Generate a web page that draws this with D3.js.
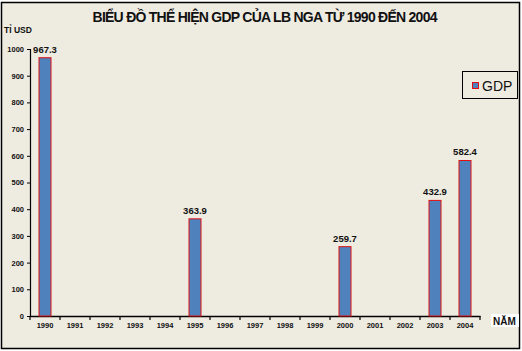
<!DOCTYPE html>
<html>
<head>
<meta charset="utf-8">
<script src="https://cdn.jsdelivr.net/npm/d3@7"></script>
<style>
  body { margin: 0; background: #fff; }
  svg { display: block; font-family: "Liberation Sans", Arial, sans-serif; }
</style>
</head>
<body>
<svg class="chart"></svg>
<script>
// chart data
const years = ['1990', '1991', '1992', '1993', '1994', '1995', '1996', '1997',
  '1998', '1999', '2000', '2001', '2002', '2003', '2004']
const gdp = [967.3, null, null, null, null, 363.9, null, null,
  null, null, 259.7, null, null, 432.9, 582.4]
const yTicks = [0, 100, 200, 300, 400, 500, 600, 700, 800, 900, 1000]

const w = 522
const h = 351

const svg = d3.select('.chart')
    .attr('width', w)
    .attr('height', h)

// chart background and border
svg.append('rect')
    .attr('x', 1.5)
    .attr('y', 2.5)
    .attr('width', 518)
    .attr('height', 346)
    .attr('fill', '#eeebe0')
    .attr('stroke', '#000')
    .attr('stroke-width', 1.5)

// scales
const x = d3.scaleBand()
    .domain(years)
    .range([30, 480])
    .paddingInner(0.6)
    .paddingOuter(0.3)
const xTick = d3.scaleBand().domain(years).range([30, 480])
const y = d3.scaleLinear()
    .domain([0, 1000])
    .range([316, 49])

// title
svg.append('text')
    .attr('x', 265)
    .attr('y', 22)
    .attr('text-anchor', 'middle')
    .attr('font-size', 14)
    .attr('font-weight', 'bold')
    .attr('textLength', 345)
    .attr('fill', '#111')
    .text('BIỂU ĐỒ THỂ HIỆN GDP CỦA LB NGA TỪ 1990 ĐẾN 2004')

// unit label
svg.append('text')
    .attr('x', 4)
    .attr('y', 33)
    .attr('font-size', 8.5)
    .attr('font-weight', 'bold')
    .attr('fill', '#111')
    .text('TỈ USD')

// y axis
const yAxis = svg.append('g')
    .attr('transform', 'translate(30,0)')
    .call(d3.axisLeft(y).tickValues(yTicks).tickFormat(d3.format('d'))
      .tickSize(3).tickPadding(3))
yAxis.select('.domain').attr('stroke', '#000').attr('stroke-width', 1.2)
yAxis.selectAll('text')
    .attr('font-size', 7.5)
    .attr('font-weight', 'bold')
    .attr('fill', '#111')

// x axis
const xAxis = svg.append('g')
    .attr('transform', 'translate(0,316)')
    .call(d3.axisBottom(xTick).tickSize(0).tickPadding(7))
xAxis.select('.domain').attr('stroke', '#000').attr('stroke-width', 1.5)
xAxis.selectAll('text')
    .attr('font-size', 7.5)
    .attr('font-weight', 'bold')
    .attr('fill', '#111')

// x tick marks between categories
xAxis.selectAll('.sep').data(years.concat(['end']))
  .enter().append('line')
    .attr('class', 'sep')
    .attr('x1', (d, i) => 30 + i * xTick.bandwidth())
    .attr('x2', (d, i) => 30 + i * xTick.bandwidth())
    .attr('y1', 0)
    .attr('y2', 4)
    .attr('stroke', '#000')
    .attr('stroke-width', 1.2)

// axis title
svg.append('rect')
    .attr('x', 491)
    .attr('y', 314)
    .attr('width', 28)
    .attr('height', 13)
    .attr('fill', '#fff')
svg.append('text')
    .attr('x', 493)
    .attr('y', 325)
    .attr('font-size', 10)
    .attr('font-weight', 'bold')
    .attr('fill', '#111')
    .text('NĂM')

// bars
const data = years.map((d, i) => ({ year: d, value: gdp[i] }))
    .filter(d => d.value !== null)

svg.selectAll('.bar').data(data)
  .enter().append('rect')
    .attr('class', 'bar')
    .attr('x', d => x(d.year))
    .attr('y', d => y(d.value))
    .attr('width', x.bandwidth())
    .attr('height', d => y(0) - y(d.value))
    .attr('fill', '#4f81bd')
    .attr('stroke', '#e01010')
    .attr('stroke-width', 1)

// value labels
svg.selectAll('.val').data(data)
  .enter().append('text')
    .attr('class', 'val')
    .attr('x', d => x(d.year) + x.bandwidth() / 2)
    .attr('y', d => y(d.value) - 5)
    .attr('text-anchor', 'middle')
    .attr('font-size', 9.5)
    .attr('font-weight', 'bold')
    .attr('fill', '#111')
    .text(d => d.value.toFixed(1))

// legend
const legend = svg.append('g')
legend.append('rect')
    .attr('x', 462.5)
    .attr('y', 71.5)
    .attr('width', 55)
    .attr('height', 27)
    .attr('fill', 'none')
    .attr('stroke', '#000')
legend.append('rect')
    .attr('x', 472.5)
    .attr('y', 82.5)
    .attr('width', 6)
    .attr('height', 6)
    .attr('fill', '#4f81bd')
    .attr('stroke', '#e01010')
legend.append('text')
    .attr('x', 482)
    .attr('y', 91)
    .attr('font-size', 14)
    .attr('fill', '#111')
    .text('GDP')
</script>
</body>
</html>
